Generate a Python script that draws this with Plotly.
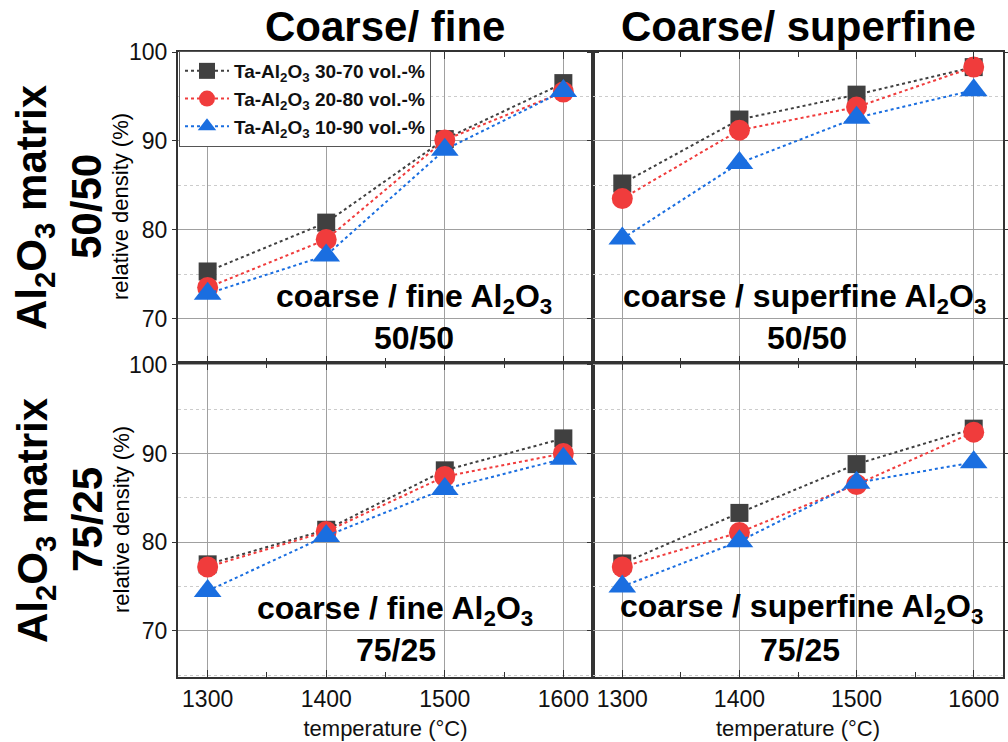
import plotly.graph_objects as go

# Sintering temperature (°C)
temps = [1300, 1400, 1500, 1600]

# Relative density (%) — coarse/fine matrix 50/50
cf50_30_70 = [75.3, 80.8, 90.2, 96.5]
cf50_20_80 = [73.5, 78.9, 90.1, 95.5]
cf50_10_90 = [72.8, 77.1, 89.0, 95.6]
# coarse/superfine matrix 50/50
csf50_30_70 = [85.2, 92.4, 95.2, 98.3]
csf50_20_80 = [83.5, 91.2, 93.8, 98.3]
csf50_10_90 = [79.0, 87.5, 92.6, 95.7]
# coarse/fine matrix 75/25
cf75_30_70 = [77.5, 81.4, 88.1, 91.7]
cf75_20_80 = [77.2, 81.2, 87.4, 90.0]
cf75_10_90 = [74.5, 80.7, 86.0, 89.4]
# coarse/superfine matrix 75/25
csf75_30_70 = [77.6, 83.3, 88.8, 92.8]
csf75_20_80 = [77.2, 81.1, 86.5, 92.4]
csf75_10_90 = [75.0, 80.1, 86.7, 89.0]

series_names = [
    "<b>Ta-Al<sub>2</sub>O<sub>3</sub> 30-70 vol.-%</b>",
    "<b>Ta-Al<sub>2</sub>O<sub>3</sub> 20-80 vol.-%</b>",
    "<b>Ta-Al<sub>2</sub>O<sub>3</sub> 10-90 vol.-%</b>",
]
colors = ["#404040", "#f03c3c", "#1a6ee0"]
symbols = ["square", "circle", "triangle-up"]
sizes = [18, 21, 24]

panels = [
    ("x", "y", [cf50_30_70, cf50_20_80, cf50_10_90]),
    ("x2", "y2", [csf50_30_70, csf50_20_80, csf50_10_90]),
    ("x3", "y3", [cf75_30_70, cf75_20_80, cf75_10_90]),
    ("x4", "y4", [csf75_30_70, csf75_20_80, csf75_10_90]),
]

W, H = 1008, 742
FONT = "Liberation Sans, Arial, sans-serif"

fig = go.Figure()
for p, (xa, ya, data) in enumerate(panels):
    for i, vals in enumerate(data):
        fig.add_trace(go.Scatter(
            x=temps, y=vals, xaxis=xa, yaxis=ya,
            mode="lines+markers",
            name=series_names[i],
            showlegend=(p == 0),
            line=dict(color=colors[i], width=2, dash="dot"),
            marker=dict(symbol=symbols[i], size=sizes[i], color=colors[i],
                        line=dict(width=0)),
        ))

def px_x(v):
    return v / W

def px_y(v):
    return 1 - v / H

xdom_l = [px_x(178), px_x(593)]
xdom_r = [px_x(593), px_x(1003)]
ydom_t = [px_y(363), px_y(52)]
ydom_b = [px_y(677), px_y(363)]

axis_common = dict(
    showline=True, linecolor="#333333", linewidth=2, mirror="ticks",
    showgrid=True, gridcolor="#a0a0a0", gridwidth=1,
    zeroline=False, tickcolor="#333333",
    tickfont=dict(family=FONT, size=23, color="#111111"),
)

def xaxis(dom, anchor, labels):
    d = dict(axis_common)
    d.update(domain=dom, anchor=anchor, range=[1275, 1625],
             tickvals=temps, ticks="inside", ticklen=7,
             showticklabels=labels,
             minor=dict(dtick=50, tick0=1250, ticks="inside", ticklen=5,
                        tickcolor="#333333", showgrid=False))
    if labels:
        d.update(title=dict(text="temperature (°C)",
                            font=dict(family=FONT, size=22, color="#111111"),
                            standoff=10))
    return d

def yaxis(dom, anchor, rng, labels):
    d = dict(axis_common)
    d.update(domain=dom, anchor=anchor, range=rng,
             tickvals=[70, 80, 90, 100], ticks="outside", ticklen=4,
             showticklabels=labels,
             minor=dict(dtick=5, tick0=65, ticks="", showgrid=True,
                        gridcolor="#cccccc", griddash="dot", gridwidth=1))
    return d

fig.update_layout(
    width=W, height=H,
    margin=dict(l=0, r=0, t=0, b=0, autoexpand=False),
    paper_bgcolor="white", plot_bgcolor="white",
    font=dict(family=FONT, color="#111111"),
    xaxis=xaxis(xdom_l, "y", False),
    yaxis=yaxis(ydom_t, "x", [65, 100], True),
    xaxis2=xaxis(xdom_r, "y2", False),
    yaxis2=yaxis(ydom_t, "x2", [65, 100], False),
    xaxis3=xaxis(xdom_l, "y3", True),
    yaxis3=yaxis(ydom_b, "x3", [64.8, 100.2], True),
    xaxis4=xaxis(xdom_r, "y4", True),
    yaxis4=yaxis(ydom_b, "x4", [64.8, 100.2], False),
    legend=dict(
        x=px_x(179), y=px_y(51), xanchor="left", yanchor="top",
        bgcolor="white", bordercolor="#555555", borderwidth=1,
        font=dict(family=FONT, size=19, color="#111111"),
        tracegroupgap=0, itemwidth=44,
    ),
)

anns = []

def text(x, y, s, size, bold=True, angle=0):
    anns.append(dict(
        x=px_x(x), y=px_y(y), xref="paper", yref="paper",
        text=f"<b>{s}</b>" if bold else s, showarrow=False,
        xanchor="center", yanchor="middle", textangle=angle,
        font=dict(family=FONT, size=size, color="#000000"),
    ))

# Column headings
text(385, 26, "Coarse/ fine", 42)
text(798, 26, "Coarse/ superfine", 42)

# Row headings and axis titles
for yc, ratio in [(207, "50/50"), (520, "75/25")]:
    text(35, yc, "Al<sub>2</sub>O<sub>3</sub> matrix", 42, angle=-90)
    text(87, yc, ratio, 42, angle=-90)
    text(121, yc, "relative density (%)", 22, bold=False, angle=-90)

# Panel labels
text(414, 298, "coarse / fine Al<sub>2</sub>O<sub>3</sub>", 32)
text(414, 338, "50/50", 32)
text(804, 298, "coarse / superfine Al<sub>2</sub>O<sub>3</sub>", 32)
text(807, 338, "50/50", 32)
text(395, 610, "coarse / fine Al<sub>2</sub>O<sub>3</sub>", 32)
text(396, 650, "75/25", 32)
text(801, 608, "coarse / superfine Al<sub>2</sub>O<sub>3</sub>", 32)
text(800, 650, "75/25", 32)

fig.update_layout(annotations=anns)

fig.write_html("out.html")
